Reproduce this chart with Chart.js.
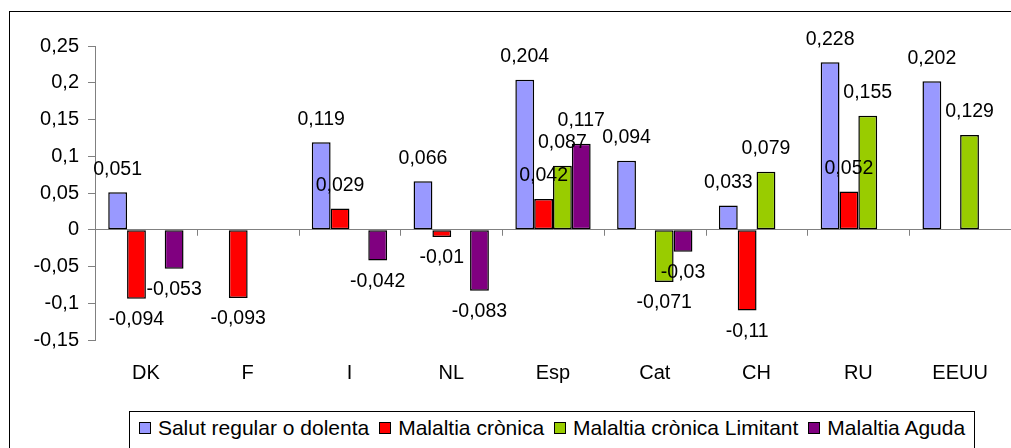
<!DOCTYPE html>
<html>
<head>
<meta charset="utf-8">
<script src="https://cdn.jsdelivr.net/npm/chart.js@4.4.0/dist/chart.umd.min.js"></script>
<style>
  html, body { margin: 0; padding: 0; background: #fff; overflow: hidden; }
  #wrap { position: relative; width: 1011px; height: 448px; }
  #frame { position: absolute; left: 9px; top: 11px; width: 1100px; height: 500px;
           border-left: 1px solid #000; border-top: 1px solid #000; }
  #chart { position: absolute; left: 0; top: 0; }
  #legend { position: absolute; left: 129px; top: 411px; width: 846px; height: 40px;
            border: 1px solid #000; box-sizing: border-box; background: #fff;
            display: flex; align-items: center; justify-content: center;
            font-family: "Liberation Sans", Arial, sans-serif; font-size: 21px; color: #000;
            padding-bottom: 6px; }
  .item { display: flex; align-items: center; margin: 0 5px; white-space: nowrap; }
  .sw { width: 10px; height: 10px; border: 1px solid #000; margin-right: 7px; }
</style>
</head>
<body>
<div id="wrap">
  <div id="frame"></div>
  <canvas id="chart" width="1011" height="448"></canvas>
  <div id="legend"></div>
</div>
<script>
// Chart data
const countries = ['DK', 'F', 'I', 'NL', 'Esp', 'Cat', 'CH', 'RU', 'EEUU'];
const seriesNames = ['Salut regular o dolenta', 'Malaltia crònica', 'Malaltia crònica Limitant', 'Malaltia Aguda'];
const salutRegular = [0.051, null, 0.119, 0.066, 0.204, 0.094, 0.033, 0.228, 0.202];
const malaltiaCronica = [-0.094, -0.093, 0.029, -0.01, 0.042, null, -0.11, 0.052, null];
const cronicaLimitant = [null, null, null, null, 0.087, -0.071, 0.079, 0.155, 0.129];
const malaltiaAguda = [-0.053, null, -0.042, -0.083, 0.117, -0.03, null, null, null];
const yTicks = [-0.15, -0.1, -0.05, 0, 0.05, 0.1, 0.15, 0.2, 0.25];

const colors = ['#9999FF', '#FF0000', '#99CC00', '#800080'];
const FONT = '"Liberation Sans", Arial, sans-serif';

function fmt(v) {
    return parseFloat(v.toFixed(3)).toString().replace('.', ',');
}

// Value labels above / below each bar
const valueLabels = {
    id: 'valueLabels',
    afterDatasetsDraw(chart) {
        const ctx = chart.ctx;
        ctx.save();
        ctx.font = '19.5px ' + FONT;
        ctx.fillStyle = '#000';
        ctx.textAlign = 'center';
        ctx.textBaseline = 'middle';
        chart.data.datasets.forEach((ds, i) => {
            chart.getDatasetMeta(i).data.forEach((bar, j) => {
                const v = ds.data[j];
                if (v === null) return;
                const y = v >= 0 ? bar.y - 23 : bar.y + 21;
                ctx.fillText(fmt(v), bar.x, y);
            });
        });
        ctx.restore();
    }
};

// Category tick marks on the zero line
const zeroTicks = {
    id: 'zeroTicks',
    beforeDatasetsDraw(chart) {
        const ctx = chart.ctx;
        const x = chart.scales.x;
        const y0 = chart.scales.y.getPixelForValue(0);
        ctx.save();
        ctx.strokeStyle = '#808080';
        ctx.lineWidth = 1;
        ctx.beginPath();
        for (let i = 0; i <= countries.length; i++) {
            const px = Math.round(x.getPixelForValue(i - 0.5)) + 0.5;
            ctx.moveTo(px, y0);
            ctx.lineTo(px, y0 + 6);
        }
        ctx.stroke();
        ctx.restore();
    }
};

const seriesData = [salutRegular, malaltiaCronica, cronicaLimitant, malaltiaAguda];

new Chart(document.getElementById('chart').getContext('2d'), {
    type: 'bar',
    data: {
        labels: countries,
        datasets: seriesData.map((d, i) => ({
            label: seriesNames[i],
            data: d,
            backgroundColor: colors[i],
            borderColor: '#000',
            borderWidth: 1.5,
            borderSkipped: false,
            categoryPercentage: 0.74,
            barPercentage: 1.0
        }))
    },
    options: {
        responsive: false,
        animation: false,
        layout: { padding: { top: 46, left: 0, right: 0, bottom: 0 } },
        plugins: {
            legend: { display: false },
            tooltip: { enabled: false }
        },
        scales: {
            x: {
                grid: { display: false, drawTicks: false },
                border: { display: false },
                ticks: { font: { family: FONT, size: 20 }, color: '#000', padding: 21, maxRotation: 0 },
                afterFit: s => { s.height = 108; }
            },
            y: {
                min: yTicks[0],
                max: yTicks[yTicks.length - 1],
                afterBuildTicks: s => { s.ticks = yTicks.map(v => ({ value: v })); },
                grid: {
                    color: c => (c.tick && c.tick.value === 0) ? '#808080' : 'rgba(0,0,0,0)',
                    tickColor: '#808080',
                    tickLength: 7,
                    lineWidth: 1
                },
                border: { display: true, color: '#808080' },
                ticks: {
                    font: { family: FONT, size: 20 },
                    color: '#000',
                    padding: 9,
                    callback: v => fmt(v)
                },
                afterFit: s => { s.width = 95; }
            }
        }
    },
    plugins: [zeroTicks, valueLabels]
});

// Legend
const legend = document.getElementById('legend');
seriesNames.forEach((name, i) => {
    const item = document.createElement('div');
    item.className = 'item';
    const sw = document.createElement('span');
    sw.className = 'sw';
    sw.style.background = colors[i];
    const txt = document.createElement('span');
    txt.textContent = name;
    item.appendChild(sw);
    item.appendChild(txt);
    legend.appendChild(item);
});
</script>
</body>
</html>
